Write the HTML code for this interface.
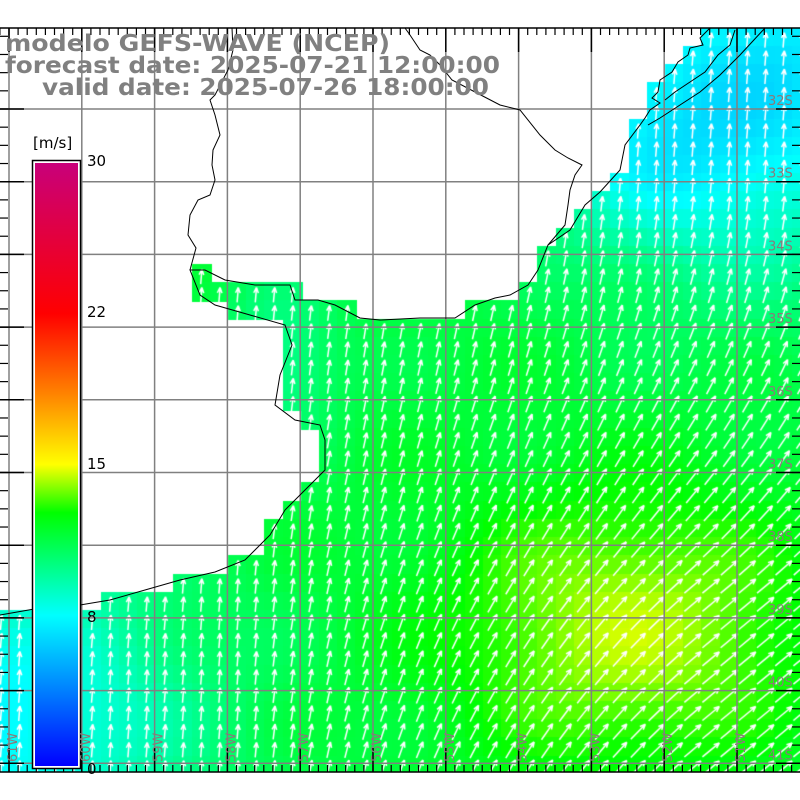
<!DOCTYPE html>
<html><head><meta charset="utf-8"><style>
html,body{margin:0;padding:0;background:#fff;width:800px;height:800px;overflow:hidden}
#c{position:absolute;left:0;top:0}
svg{position:absolute;left:0;top:0}
</style></head><body>
<canvas id="c" width="800" height="800"></canvas>
<svg width="800" height="800" xmlns="http://www.w3.org/2000/svg">
<defs>
<linearGradient id="cb" x1="0" y1="1" x2="0" y2="0">
<stop offset="0" stop-color="#0000ff"/>
<stop offset="0.25" stop-color="#00ffff"/>
<stop offset="0.42" stop-color="#00ff00"/>
<stop offset="0.5" stop-color="#ffff00"/>
<stop offset="0.62" stop-color="#ff8000"/>
<stop offset="0.75" stop-color="#ff0000"/>
<stop offset="1" stop-color="#c8007a"/>
</linearGradient>
</defs>
<g id="grid" stroke="#808080" stroke-width="1.5" fill="none"></g>
<polyline fill="none" stroke="#000" stroke-width="1" points="710,28 700,38 703,45 690,48 688,55 678,62 672,72 660,80 658,92 652,98 660,103 650,110 645,118 640,125 625,145 620,170 600,192 585,205 570,230 548,245 538,270 528,285 510,295 495,298 475,305 455,318 420,318 380,320 360,318 335,305 318,300 295,300 290,285 255,285 225,280 205,270 190,270 200,295 215,305 250,315 285,325 292,345 280,375 275,405 295,420 320,425 325,440 325,470 305,490 285,510 270,535 245,560 215,572 180,580 145,590 110,600 80,605 40,608 0,615"/>
<polyline fill="none" stroke="#000" stroke-width="1" points="232,28 233,50 228,70 215,95 210,100 215,115 220,135 213,150 212,165 215,180 210,195 198,200 190,215 188,235 196,248 190,270"/>
<polyline fill="none" stroke="#000" stroke-width="1" points="405,28 410,35 420,50 430,55 440,65 452,80 475,92 500,105 520,110 540,135 555,150 568,158 582,165 575,175 570,190 568,205 565,225 548,245"/>
<polyline fill="none" stroke="#000" stroke-width="1" points="765,28 740,55 720,75 700,92 680,105 660,118 648,125"/>
<polyline fill="none" stroke="#000" stroke-width="1" points="735,30 730,45 718,55 705,72 690,82 675,92 665,100"/>
<g id="frame" stroke="#000" stroke-width="1.5"></g>
<g font-family="DejaVu Sans, sans-serif" font-weight="bold" font-size="23" fill="#808080">
<text x="5" y="51" textLength="385" lengthAdjust="spacingAndGlyphs">modelo GEFS-WAVE (NCEP)</text>
<text x="5" y="73" textLength="495" lengthAdjust="spacingAndGlyphs">forecast date: 2025-07-21 12:00:00</text>
<text x="42" y="95" textLength="447" lengthAdjust="spacingAndGlyphs">valid date: 2025-07-26 18:00:00</text>
</g>
<rect x="32.5" y="160.5" width="48" height="608" fill="#fff" stroke="#000" stroke-width="1.5"/>
<rect x="35" y="163" width="43" height="603" fill="url(#cb)"/>
<g font-family="DejaVu Sans, sans-serif" font-size="15" fill="#000">
<text x="33" y="148">[m/s]</text>
<text x="87" y="166">30</text>
<text x="87" y="317">22</text>
<text x="87" y="469">15</text>
<text x="87" y="622">8</text>
<text x="87" y="774">0</text>
</g>
<g id="lab" font-family="DejaVu Sans, sans-serif" font-size="13" fill="#8a7a7a"></g>
</svg>
<script>
const cv=document.getElementById('c'),ctx=cv.getContext('2d');
const T=28,B=772,L=0,R=800;
const coast=[[710,28],[700,38],[690,48],[678,62],[660,80],[652,98],[645,118],[625,145],[620,170],[600,192],[585,205],[570,230],[548,245],[538,270],[528,285],[510,295],[475,305],[455,318],[380,320],[335,305],[318,300],[295,300],[290,285],[255,285],[225,280],[205,270],[190,270],[200,295],[215,305],[250,315],[285,325],[292,345],[280,375],[275,405],[295,420],[320,425],[325,440],[325,470],[305,490],[285,510],[270,535],[245,560],[215,572],[180,580],[145,590],[110,600],[80,605],[40,608],[0,615],[0,28]];
function inPoly(x,y,p){let c=false;for(let i=0,j=p.length-1;i<p.length;j=i++){const[xi,yi]=p[i],[xj,yj]=p[j];if(((yi>y)!=(yj>y))&&(x<(xj-xi)*(y-yi)/(yj-yi)+xi))c=!c;}return c;}
const stops=[[0,[0,0,255]],[8,[0,255,255]],[12.5,[0,255,0]],[15,[255,255,0]],[19,[255,128,0]],[22,[255,0,0]],[30,[200,0,122]]];
function col(s){for(let i=1;i<stops.length;i++){if(s<=stops[i][0]){const a=stops[i-1],b=stops[i],t=(s-a[0])/(b[0]-a[0]);return 'rgb('+a[1].map((v,k)=>Math.round(v+(b[1][k]-v)*t)).join(',')+')';}}return 'rgb(200,0,122)';}
function spd(x,y){
 let s=11.4;
 s+=2.9*Math.exp(-(((x-630)/180)**2+((y-630)/140)**2));
 s-=3.6*Math.exp(-(((x-0)/190)**2+((y-720)/170)**2));
 s-=3.9*Math.exp(-(((x-800)/180)**2+((y-60)/200)**2));
 s-=2.4*Math.exp(-(((x-650)/120)**2+((y-150)/110)**2));
 s-=1.5*Math.exp(-(((x-280)/60)**2+((y-360)/80)**2));
 s+=0.3*Math.sin(x/37)*Math.cos(y/29);
 return s;}
const cs=18.2;
const cells=[];
for(let gy=T;gy<B;gy+=cs){for(let gx=-8;gx<R;gx+=cs){
 const cx=gx+cs/2,cy=gy+cs/2;
 if(inPoly(cx,cy,coast))continue;
 ctx.fillStyle=col(spd(cx,cy));ctx.fillRect(Math.floor(gx),Math.floor(gy),Math.ceil(cs)+1,Math.ceil(cs)+1);
 cells.push([cx,cy]);}}
ctx.clearRect(0,B,800,28);
ctx.strokeStyle='#fff';ctx.lineWidth=1.5;
const cl=v=>Math.max(0,Math.min(1,v));
for(const[cx,cy]of cells){
 const f=cl((cx-250)/450)*cl((cy-180)/400);
 const ang=0.08+f*0.8;
 const len=15+ f*7;
 const dx=Math.sin(ang),dy=-Math.cos(ang);
 const x0=cx-dx*len/2,y0=cy-dy*len/2+3,x1=cx+dx*len/2,y1=cy+dy*len/2+3;
 ctx.beginPath();ctx.moveTo(x0,y0);ctx.lineTo(x1,y1);
 const h=6,a1=ang+Math.PI+0.4,a2=ang+Math.PI-0.4;
 ctx.moveTo(x1,y1);ctx.lineTo(x1+Math.sin(a1)*h,y1-Math.cos(a1)*h);
 ctx.moveTo(x1,y1);ctx.lineTo(x1+Math.sin(a2)*h,y1-Math.cos(a2)*h);
 ctx.stroke();}
const NS='http://www.w3.org/2000/svg';
function el(p,n,a,t){const e=document.createElementNS(NS,n);for(const k in a)e.setAttribute(k,a[k]);if(t)e.textContent=t;p.appendChild(e);return e;}
const g=document.getElementById('grid'),fr=document.getElementById('frame'),lab=document.getElementById('lab');
const vx=[],hy=[];
for(let i=0;i<11;i++)vx.push(9+i*72.8);
for(let i=0;i<10;i++)hy.push(109+i*72.7);
vx.forEach(x=>el(g,'line',{x1:x,y1:T,x2:x,y2:B}));
hy.forEach(y=>el(g,'line',{x1:L,y1:y,x2:R,y2:y}));
el(fr,'line',{x1:0,y1:T,x2:800,y2:T});el(fr,'line',{x1:0,y1:B,x2:800,y2:B});
for(let x=9-72.8;x<800;x+=72.8/8){for(const[y,d] of [[T,1],[B,-1]])el(fr,'line',{x1:x,y1:y,x2:x,y2:y+d*7,'stroke-width':1.2});}
vx.forEach(x=>{el(fr,'line',{x1:x,y1:T,x2:x,y2:T+24});el(fr,'line',{x1:x,y1:B,x2:x,y2:B-24});});
for(let y=109-72.7;y<B;y+=72.7/4){if(y<T)continue;el(fr,'line',{x1:0,y1:y,x2:8,y2:y,'stroke-width':1.2});el(fr,'line',{x1:800,y1:y,x2:792,y2:y,'stroke-width':1.2});}
hy.forEach(y=>{el(fr,'line',{x1:0,y1:y,x2:24,y2:y});el(fr,'line',{x1:800,y1:y,x2:776,y2:y});});
hy.forEach((y,i)=>el(lab,'text',{x:768,y:y-4},(32+i)+'S'));
vx.forEach((x,i)=>el(lab,'text',{x:0,y:0,transform:'translate('+(x+8)+',762) rotate(-90)'},(61-i)+'W'));
</script>
</body></html>
